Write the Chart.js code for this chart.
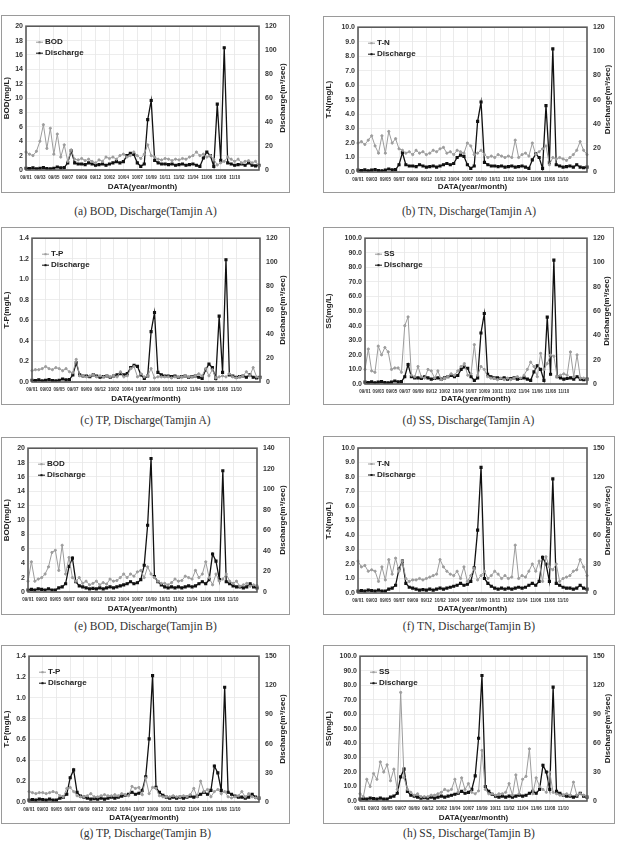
<!DOCTYPE html>
<html>
<head>
<meta charset="utf-8">
<script src="https://cdn.jsdelivr.net/npm/chart.js@4.4.0/dist/chart.umd.min.js"></script>
<style>
  body { margin: 0; background: #fff; width: 618px; height: 845px; position: relative; overflow: hidden; }
  .box { position: absolute; border: 1px solid #9a9a9a; background: #fff; }
  .box canvas { position: absolute; left: 0; top: 0; }
  .cap { position: absolute; width: 300px; text-align: center; line-height: 16px;
         font-family: 'Liberation Serif', 'DejaVu Serif', serif; font-size: 11.5px; color: #333; }
</style>
</head>
<body>
<script>
// x axis: one tick label every 4 samples, last group unlabelled
const tickLabels = ['09/01','09/03','09/05','09/07','09/09','09/12','10/02','10/04',
                    '10/07','10/09','10/11','11/02','11/04','11/06','11/08','11/10'];

// Tamjin A
const dischargeA = [1.5,1.2,1.8,1.0, 1.5,2.0,1.2,1.0, 1.5,2.5,1.8,2.0, 6,16,6,5,
                    5,4.5,6,5, 4,4.5,5,4, 5,6,7,6, 7,12,14,13,
                    6,3,5,42, 58,8,6,5, 5,4.5,5,4, 4.5,5,4,4.5,
                    5,4,3,10, 15,12,3,55, 8,102,6,5, 4,4.5,5,4, 6,4,3.5,4];
const bodA = [2.5,2.2,2.0,2.6, 4.0,6.3,3.0,5.8, 2.2,5.0,1.8,3.5, 1.2,2.8,1.5,1.4,
              1.6,1.3,1.5,1.2, 1.0,1.4,1.2,1.8, 1.6,1.8,1.5,2.0, 2.2,1.8,2.0,2.5,
              2.0,1.6,2.2,3.5, 2.0,1.8,1.5,1.4, 1.6,1.5,1.3,1.5, 1.4,1.6,1.5,1.8,
              2.0,2.5,2.0,2.2, 1.8,2.0,1.5,0.7, 1.0,1.2,1.8,1.5, 1.2,1.5,1.0,1.2, 1.3,1.0,1.2,0.5];
const tnA = [2.0,2.1,1.9,2.2, 2.5,1.8,1.3,2.5, 1.3,2.8,2.0,2.3, 1.6,1.5,1.3,1.4,
             1.2,1.5,1.3,1.4, 1.2,1.3,1.5,1.4, 1.6,1.7,1.3,1.4, 1.2,1.5,1.4,1.3,
             2.0,1.8,1.2,1.3, 1.5,1.2,1.0,1.1, 1.0,1.2,1.1,1.0, 1.1,1.0,2.2,1.0,
             1.2,1.3,1.1,2.0, 1.2,1.4,1.6,1.8, 0.5,1.0,0.9,1.0, 0.9,0.8,1.0,1.2, 1.5,2.1,1.5,1.2];
const tpA = [0.11,0.12,0.12,0.13, 0.15,0.13,0.12,0.14, 0.13,0.11,0.13,0.10, 0.09,0.22,0.06,0.06,
             0.05,0.06,0.07,0.05, 0.06,0.05,0.06,0.05, 0.06,0.05,0.10,0.05, 0.06,0.13,0.15,0.05,
             0.08,0.05,0.06,0.13, 0.04,0.05,0.05,0.05, 0.05,0.04,0.05,0.05, 0.05,0.06,0.05,0.05,
             0.06,0.08,0.06,0.13, 0.06,0.12,0.04,0.05, 0.06,0.05,0.08,0.05, 0.04,0.05,0.06,0.10,
             0.06,0.14,0.05,0.04];
const ssA = [10,24,9,8, 26,20,25,22, 10,11,11,8, 40,46,6,5,
             12,5,4,10, 9,4,9,3, 4,5,7,6, 9,12,14,6,
             7,27,6,12, 10,5,4,4, 3,4,3,4, 3,4,5,4,
             6,10,15,12, 5,21,10,14, 20,19,5,6, 7,6,22,5, 20,4,4,3];

// Tamjin B
const dischargeB = [2,2.5,2,3, 2.5,2,3,2, 2,4,5,8, 25,33,10,6,
                    5,4,3,3.5, 3,4,3,4, 5,4,5,6, 7,8,10,8,
                    9,12,26,65, 130,15,10,7, 5,4,5,4, 5,4,5,6,
                    5,6,8,10, 8,12,37,30, 12,118,10,8, 6,5,5,4, 5,8,5,4];
const bodB = [1.5,4.2,1.5,1.8, 2.0,2.5,3.5,5.5, 5.8,3.0,6.5,2.5, 4.8,2.0,1.5,2.0,
              1.2,1.5,1.0,1.2, 1.5,1.0,1.3,1.1, 1.8,1.5,1.6,2.0, 2.5,2.0,2.5,2.2,
              2.8,3.0,2.0,3.5, 2.5,2.0,1.5,1.2, 1.2,1.0,1.3,1.8, 1.5,1.6,2.2,2.0,
              1.8,3.0,2.0,2.5, 4.2,2.0,1.0,2.5, 1.5,1.8,2.5,1.5, 1.2,1.5,0.8,1.0, 1.2,0.8,1.0,0.9];
const tnB = [2.2,1.8,1.9,1.5, 1.6,1.5,0.8,1.8, 0.9,2.3,1.3,2.4, 1.5,2.2,1.0,0.8,
             0.9,0.9,1.0,0.9, 1.0,1.1,1.2,1.3, 2.3,1.8,1.5,1.3, 1.2,1.5,1.0,1.8,
             0.8,1.2,1.7,0.9, 1.2,1.5,1.0,1.2, 1.5,1.3,1.0,1.2, 1.0,1.1,3.3,1.0,
             1.2,1.1,1.5,2.0, 1.5,2.2,0.8,2.5, 1.8,1.6,2.0,0.8, 1.0,1.1,1.2,1.5, 1.6,2.3,1.8,1.2];
const tpB = [0.10,0.09,0.08,0.09, 0.09,0.08,0.09,0.10, 0.09,0.06,0.05,0.13, 0.14,0.10,0.06,0.05,
             0.05,0.06,0.08,0.05, 0.05,0.06,0.07,0.06, 0.06,0.07,0.06,0.08, 0.07,0.06,0.15,0.13,
             0.14,0.07,0.23,0.08, 0.14,0.13,0.06,0.05, 0.05,0.05,0.06,0.05, 0.05,0.06,0.05,0.07,
             0.13,0.05,0.20,0.10, 0.12,0.05,0.10,0.12, 0.08,0.10,0.05,0.04, 0.05,0.06,0.10,0.05,
             0.08,0.05,0.04,0.04];
const ssB = [5,3,15,10, 19,15,27,20, 25,14,22,8, 75,16,8,6,
             4,5,3,3, 3,4,4,5, 6,8,7,8, 15,6,16,8,
             12,6,5,7, 35,8,5,5, 4,5,5,6, 12,4,18,5,
             15,17,36,5, 16,10,8,6, 20,6,5,4, 4,5,4,13, 4,5,4,3];

const categories = [];
tickLabels.concat(['']).forEach(t => { categories.push(t, '', '', ''); });

// box = [x, y, w, h] of the framed panel, plot = [left, right, top, bottom] of the plot area (page px)
const panels = [
  { box: [1, 15, 289, 178],  plot: [26, 259, 23, 170],  name: 'BOD', title: 'BOD(mg/L)', vals: bodA, q: dischargeA,
    yMax: 20, yStep: 2, dec: 0, qMax: 120, qStep: 20, cap: '(a) BOD, Discharge(Tamjin A)', capY: 211 },
  { box: [323, 16, 292, 177], plot: [358, 587, 23, 172], name: 'T-N', title: 'T-N(mg/L)', vals: tnA, q: dischargeA,
    yMax: 10, yStep: 1, dec: 1, qMax: 120, qStep: 20, cap: '(b) TN, Discharge(Tamjin A)', capY: 211 },
  { box: [1, 227, 289, 178], plot: [32, 260, 236, 382], name: 'T-P', title: 'T-P(mg/L)', vals: tpA, q: dischargeA,
    yMax: 1.4, yStep: 0.2, dec: 1, qMax: 120, qStep: 20, cap: '(c) TP, Discharge(Tamjin A)', capY: 420 },
  { box: [323, 227, 291, 178], plot: [365, 587, 236, 384], name: 'SS', title: 'SS(mg/L)', vals: ssA, q: dischargeA,
    yMax: 100, yStep: 10, dec: 1, qMax: 120, qStep: 20, cap: '(d) SS, Discharge(Tamjin A)', capY: 420 },
  { box: [1, 437, 289, 178], plot: [28, 257, 448, 592], name: 'BOD', title: 'BOD(mg/L)', vals: bodB, q: dischargeB,
    yMax: 20, yStep: 2, dec: 0, qMax: 140, qStep: 20, cap: '(e) BOD, Discharge(Tamjin B)', capY: 626 },
  { box: [323, 436, 292, 179], plot: [358, 587, 448, 593], name: 'T-N', title: 'T-N(mg/L)', vals: tnB, q: dischargeB,
    yMax: 10, yStep: 1, dec: 1, qMax: 150, qStep: 30, cap: '(f) TN, Discharge(Tamjin B)', capY: 626 },
  { box: [1, 645, 289, 179], plot: [29, 259, 655, 802], name: 'T-P', title: 'T-P(mg/L)', vals: tpB, q: dischargeB,
    yMax: 1.4, yStep: 0.2, dec: 1, qMax: 150, qStep: 30, cap: '(g) TP, Discharge(Tamjin B)', capY: 833 },
  { box: [323, 645, 292, 179], plot: [360, 587, 655, 801], name: 'SS', title: 'SS(mg/L)', vals: ssB, q: dischargeB,
    yMax: 100, yStep: 10, dec: 1, qMax: 150, qStep: 30, cap: '(h) SS, Discharge(Tamjin B)', capY: 833 }
];

Chart.defaults.font.family = '"Liberation Sans", Arial, sans-serif';
Chart.defaults.color = '#333';

// frame round the plot, inline legend and a bottom-to-top right axis title
const framePlugin = {
  id: 'frame',
  afterDatasetsDraw(chart, args, opts) {
    const ctx = chart.ctx;
    const a = chart.chartArea;
    ctx.save();
    ctx.strokeStyle = '#5a5a5a';
    ctx.lineWidth = 1.6;
    ctx.strokeRect(a.left, a.top, a.right - a.left, a.bottom - a.top);

    ctx.font = 'bold 8px "Liberation Sans", Arial, sans-serif';
    ctx.textBaseline = 'middle';
    chart.data.datasets.forEach((ds, k) => {
      const y = a.top + 16 + k * 11;
      const x = a.left + 10;
      ctx.strokeStyle = ds.borderColor;
      ctx.lineWidth = 1;
      ctx.beginPath(); ctx.moveTo(x, y); ctx.lineTo(x + 7, y); ctx.stroke();
      ctx.fillStyle = ds.borderColor;
      ctx.fillRect(x + 2.5, y - 1, 2, 2);
      ctx.fillStyle = '#222';
      ctx.fillText(ds.label, x + 9, y);
    });

    ctx.translate(chart.width - 6, (a.top + a.bottom) / 2);
    ctx.rotate(-Math.PI / 2);
    ctx.textAlign = 'center';
    ctx.fillStyle = '#222';
    ctx.fillText(opts.rightTitle, 0, 0);
    ctx.restore();
  }
};

panels.forEach(p => {
  const [bx, by, bw, bh] = p.box;
  const [pl, pr, pt, pb] = p.plot;
  const cw = bw - 2, ch = bh - 2;
  const ox = bx + 1, oy = by + 1;

  const box = document.createElement('div');
  box.className = 'box';
  box.style.left = bx + 'px';
  box.style.top = by + 'px';
  box.style.width = cw + 'px';
  box.style.height = ch + 'px';
  const canvas = document.createElement('canvas');
  canvas.width = cw;
  canvas.height = ch;
  canvas.style.width = cw + 'px';
  canvas.style.height = ch + 'px';
  box.appendChild(canvas);
  document.body.appendChild(box);

  const cap = document.createElement('div');
  cap.className = 'cap';
  cap.textContent = p.cap;
  cap.style.left = (bx + bw / 2 - 150) + 'px';
  cap.style.top = (p.capY - 8) + 'px';
  document.body.appendChild(cap);

  const leftW = pl - ox;
  const rightW = ox + cw - pr;
  const padTop = pt - oy;
  const xH = oy + ch - pb;

  new Chart(canvas, {
    type: 'line',
    data: {
      labels: categories,
      datasets: [
        {
          label: p.name,
          data: p.vals,
          yAxisID: 'y',
          borderColor: '#9c9c9c',
          borderWidth: 1,
          pointRadius: 1.1,
          pointBackgroundColor: '#9c9c9c',
          pointBorderColor: '#9c9c9c',
          tension: 0
        },
        {
          label: 'Discharge',
          data: p.q,
          yAxisID: 'y1',
          borderColor: '#111',
          borderWidth: 1.3,
          pointRadius: 1.3,
          pointStyle: 'rect',
          pointBackgroundColor: '#111',
          pointBorderColor: '#111',
          tension: 0
        }
      ]
    },
    options: {
      responsive: false,
      animation: false,
      layout: { padding: { top: padTop, left: 0, right: 0, bottom: 0 } },
      plugins: {
        legend: { display: false },
        tooltip: { enabled: false },
        frame: { rightTitle: 'Discharge(m\u00B3/sec)' }
      },
      scales: {
        x: {
          grid: { color: '#e6e6e6', lineWidth: 0.8, drawTicks: false },
          border: { display: false },
          ticks: {
            autoSkip: false, maxRotation: 0, minRotation: 0, padding: 5,
            font: { size: 4.5, weight: 'bold' }, color: '#333',
            callback: function (v) {
              const l = this.getLabelForValue(v);
              return l === '' ? null : l;
            }
          },
          title: { display: true, text: 'DATA(year/month)', font: { size: 8, weight: 'bold' }, color: '#222',
                   padding: { top: 1, bottom: 0 } },
          afterFit: s => { s.height = xH; }
        },
        y: {
          position: 'left',
          min: 0, max: p.yMax,
          grid: { color: '#e8e8e8', lineWidth: 0.8, drawTicks: false },
          border: { display: false },
          ticks: { stepSize: p.yStep, padding: 3, font: { size: 7, weight: 'bold' }, color: '#333',
                   callback: v => v.toFixed(p.dec) },
          title: { display: true, text: p.title, font: { size: 8, weight: 'bold' }, color: '#222',
                   padding: { top: 0, bottom: 1 } },
          afterFit: s => { s.width = leftW; }
        },
        y1: {
          position: 'right',
          min: 0, max: p.qMax,
          grid: { display: false, drawTicks: false },
          border: { display: false },
          ticks: { stepSize: p.qStep, padding: 6, font: { size: 7, weight: 'bold' }, color: '#333' },
          afterFit: s => { s.width = rightW; }
        }
      }
    },
    plugins: [framePlugin]
  });
});
</script>
</body>
</html>
